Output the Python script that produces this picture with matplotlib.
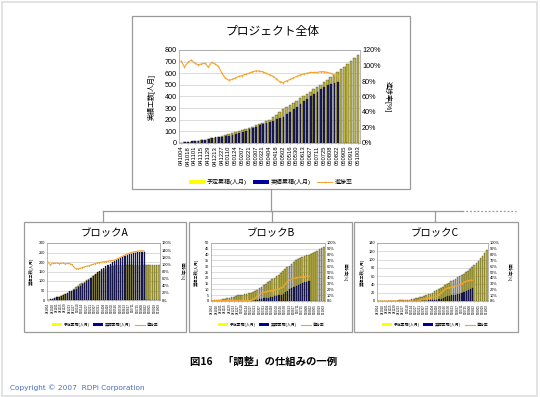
import matplotlib
matplotlib.use("Agg")
import matplotlib.pyplot as plt
from matplotlib.patches import Rectangle, Patch
from matplotlib.lines import Line2D

plt.rcParams['font.family'] = ['Liberation Sans', 'Noto Sans CJK JP', 'DejaVu Sans']

# ---------------- data ----------------
date_labels = ["041004", "041018", "041101", "041115", "041129", "041213", "041227",
               "050110", "050124", "050207", "050221", "050307", "050321", "050404",
               "050418", "050502", "050516", "050530", "050613", "050627", "050711",
               "050725", "050808", "050822", "050905", "050919", "051003"]

series_names = ["予定累積(人月)", "実績累積(人月)", "進捗率"]

total_planned = [3, 6, 9, 12, 15, 19, 24, 29, 35, 41, 47, 54, 61, 68, 76, 84, 92, 101, 110, 120,
                 130, 141, 152, 163, 175, 188, 201, 222, 245, 268, 290, 310, 328, 346, 364, 383,
                 402, 422, 442, 462, 482, 503, 524, 545, 566, 588, 610, 634, 658, 682, 706, 730, 755]
total_actual = [3, 6, 9, 13, 15, 19, 24, 30, 34, 43, 48, 53, 55, 57, 62, 69, 77, 87, 96, 107,
                117, 130, 141, 152, 161, 169, 177, 191, 203, 212, 226, 248, 269, 291, 313, 337,
                358, 380, 402, 420, 439, 463, 482, 496, 509, 517, 522]
total_rate = [1.06, 0.98, 1.04, 1.07, 1.03, 1.01, 1.02, 1.03, 0.98, 1.04, 1.02, 0.99, 0.90,
              0.84, 0.81, 0.82, 0.84, 0.86, 0.87, 0.89, 0.90, 0.92, 0.93, 0.93, 0.92, 0.90,
              0.88, 0.86, 0.83, 0.79, 0.78, 0.80, 0.82, 0.84, 0.86, 0.88, 0.89, 0.90, 0.91,
              0.91, 0.91, 0.92, 0.92, 0.91, 0.90, 0.88, 0.87]

a_planned = [2, 4, 7, 10, 14, 18, 22, 27, 32, 38, 44, 50, 58, 68, 76, 83, 90, 97, 104, 111,
             118, 125, 132, 139, 146, 152, 158, 164, 169, 174, 178, 181, 183, 185, 185, 185,
             185, 185, 185, 185, 185, 185, 185, 185, 185, 185, 185, 185, 185, 185, 185, 185, 185]
a_actual = [2, 4, 7, 10, 15, 18, 23, 28, 32, 39, 45, 50, 54, 60, 66, 74, 82, 90, 99, 107,
            116, 125, 135, 145, 153, 161, 169, 177, 184, 191, 198, 203, 209, 216, 222, 228,
            233, 239, 242, 246, 250, 252, 253, 255, 255, 255]
a_rate = [1.06, 0.98, 1.04, 1.03, 1.04, 1.02, 1.03, 1.04, 1.01, 1.03, 1.02, 1.00, 0.93, 0.88,
          0.87, 0.89, 0.91, 0.93, 0.95, 0.96, 0.98, 1.00, 1.02, 1.04, 1.05, 1.06, 1.07, 1.08,
          1.09, 1.10, 1.11, 1.12, 1.14, 1.17, 1.20, 1.23, 1.26, 1.29, 1.31, 1.33, 1.35, 1.36,
          1.37, 1.38, 1.38, 1.38]

b_planned = [0.3, 0.5, 0.7, 0.9, 1.2, 1.5, 1.9, 2.3, 2.8, 3.3, 3.8, 4.3, 4.8, 5.2, 5.6, 6.0,
             6.4, 6.8, 7.2, 7.6, 8.5, 9.5, 10.8, 12.2, 13.6, 15.0, 16.3, 17.6, 18.8, 20.0,
             21.3, 22.6, 24.0, 25.6, 27.3, 29.0, 30.6, 32.2, 33.7, 35.0, 36.0, 37.0, 37.8,
             38.6, 39.3, 40.0, 40.8, 41.6, 42.5, 43.4, 44.4, 45.4, 46.5]
b_actual = [0, 0, 0, 0, 0, 0, 0, 0, 0, 0, 0, 0, 0, 0, 0, 0, 0, 0, 0,
            0.2, 0.5, 1.0, 1.5, 2.0, 2.3, 2.6, 2.9, 3.2, 3.5, 3.9, 4.3, 4.8, 5.5, 6.3, 7.5,
            8.8, 10.0, 11.0, 12.0, 13.0, 14.0, 15.0, 15.8, 16.5, 16.8, 17.0]
b_rate = [0.01, 0.01, 0.01, 0.01, 0.01, 0.01, 0.01, 0.01, 0.01, 0.01, 0.01, 0.01, 0.01, 0.01,
          0.01, 0.01, 0.01, 0.01, 0.01,
          0.03, 0.05, 0.08, 0.11, 0.14, 0.15, 0.16, 0.17, 0.18, 0.18, 0.19, 0.20, 0.21, 0.23,
          0.25, 0.29, 0.33, 0.36, 0.38, 0.39, 0.40, 0.41, 0.41, 0.42, 0.42, 0.43, 0.43]

c_planned = [0.2, 0.3, 0.4, 0.5, 0.6, 0.7, 0.8, 0.9, 1.0, 1.1, 1.3, 1.5, 2.0, 2.5, 3.0, 3.6,
             4.3, 5.2, 6.2, 7.5, 9.0, 10.5, 12.2, 14.0, 16.0, 18.0, 20.5, 23.0, 26.0, 29.0,
             32.0, 35.0, 38.0, 41.0, 44.5, 48.0, 51.0, 54.0, 57.0, 60.0, 63.0, 66.0, 69.5,
             73.0, 77.0, 81.0, 86.0, 91.0, 97.0, 103.0, 109.0, 116.0, 123.0]
c_actual = [0, 0, 0, 0, 0, 0, 0, 0, 0, 0, 0, 0, 0, 0, 0, 0, 0, 0, 0, 0,
            0.3, 0.5, 0.8, 1.0, 1.3, 1.6, 2.0, 2.4, 3.0, 4.0, 5.5, 7.5, 9.5, 11.0, 12.5,
            13.5, 14.5, 15.5, 16.5, 18.0, 20.0, 22.0, 24.5, 27.0, 29.0, 30.5]
c_rate = [0.0, 0.0, 0.0, 0.0, 0.0, 0.0, 0.0, 0.0, 0.0, 0.0, 0.0, 0.0, 0.0, 0.0, 0.0, 0.0,
          0.0, 0.0, 0.0, 0.0,
          0.02, 0.03, 0.04, 0.04, 0.05, 0.06, 0.06, 0.07, 0.08, 0.11, 0.14, 0.17, 0.20, 0.22,
          0.23, 0.24, 0.25, 0.26, 0.27, 0.28, 0.30, 0.32, 0.34, 0.35, 0.36, 0.36]

# ---------------- styles ----------------
W, H = 540, 397
PLAN_C = '#bfb74a'
PLAN_EDGE = '#33331c'
ACT_C = '#1a1a55'
LINE_C = '#f2a531'
BOX_C = '#9a9a9a'


def fx(px):
    return px / W


def fy(py):
    return 1 - py / H


fig = plt.figure(figsize=(W / 100, H / 100), dpi=100)
fig.patch.set_facecolor('white')

# slide frame
fig.add_artist(Rectangle((fx(2), fy(396)), fx(535), 394 / H, transform=fig.transFigure,
                         fill=False, edgecolor='#dedede', lw=1.2))


def box(x0, y0, x1, y1):
    fig.add_artist(Rectangle((fx(x0), fy(y1)), fx(x1 - x0), (y1 - y0) / H,
                             transform=fig.transFigure, fill=False, edgecolor=BOX_C, lw=0.9))


box(132, 16, 410, 189)
box(24, 222, 186, 332)
box(189, 222, 352, 332)
box(354, 222, 518, 332)


def line(xs, ys, ls='-'):
    fig.add_artist(Line2D([fx(x) for x in xs], [fy(y) for y in ys], transform=fig.transFigure,
                          color=BOX_C, lw=0.9, linestyle=ls))


line([271, 271], [189, 211])
line([103, 462], [211, 211])
line([462, 516], [211, 211], ls=(0, (1.5, 1.5)))
line([103, 103], [211, 222])
line([272, 272], [211, 222])
line([435, 435], [211, 222])


def chart(rect_px, planned, actual, rate, ymax, ystep, rmax, rstep, title, title_xy,
          title_fs, tick_fs, xtick_fs, lab_fs, leg_fs, leg_xy, leg_marker, ylab_x, rlab_x):
    x0, y0, x1, y1 = rect_px
    ax = fig.add_axes([fx(x0), fy(y1), fx(x1 - x0), (y1 - y0) / H])
    n = len(planned)
    xs = list(range(n))
    ax.bar(xs, planned, width=0.78, color=PLAN_C, edgecolor=PLAN_EDGE, linewidth=0.25, zorder=2)
    xa = [i + 0.12 for i in range(len(actual))]
    ax.bar(xa, actual, width=0.55, color=ACT_C, edgecolor='#0a0a30', linewidth=0.2, zorder=3)
    ax.set_xlim(-0.6, n - 0.4)
    ax.set_ylim(0, ymax)
    ax.set_yticks([v for v in range(0, ymax + 1, ystep)])
    ax.yaxis.grid(True, color='#cfcfcf', lw=0.5, zorder=0)
    ax.set_axisbelow(True)
    ax.set_xticks(list(range(0, n, 2)))
    ax.set_xticklabels(date_labels, rotation=90, fontsize=xtick_fs)
    ax.tick_params(axis='y', labelsize=tick_fs, length=0, pad=1.5)
    ax.tick_params(axis='x', length=1, width=0.4, pad=1, color='#888888')
    for s in ax.spines.values():
        s.set_color('#9a9a9a')
        s.set_linewidth(0.5)
    ax2 = ax.twinx()
    ax2.plot(list(range(len(rate))), rate, color=LINE_C, lw=0.8, marker='o',
             markersize=leg_marker, markeredgewidth=0, zorder=5)
    ax2.set_ylim(0, rmax)
    rt = [k * rstep for k in range(int(round(rmax / rstep)) + 1)]
    ax2.set_yticks(rt)
    ax2.set_yticklabels([f"{round(v * 100)}%" for v in rt])
    ax2.tick_params(axis='y', labelsize=tick_fs, length=0, pad=1.5)
    for s in ax2.spines.values():
        s.set_visible(False)
    fig.text(fx(ylab_x), fy((y0 + y1) / 2), "実績工数[人月]", rotation=90, fontsize=lab_fs,
             ha='center', va='center')
    fig.text(fx(rlab_x), fy((y0 + y1) / 2), "進捗率[%]", rotation=270, fontsize=lab_fs,
             ha='center', va='center')
    fig.text(fx(title_xy[0]), fy(title_xy[1]), title, fontsize=title_fs, ha='center',
             va='center', family=['Noto Sans CJK JP', 'DejaVu Sans'])
    handles = [Patch(facecolor='#ffff00', edgecolor='none'),
               Patch(facecolor='#000099', edgecolor='none'),
               Line2D([], [], color=LINE_C, lw=0.8, marker='o', markersize=leg_marker,
                      markeredgewidth=0)]
    fig.legend(handles, series_names, loc='center', bbox_to_anchor=(fx(leg_xy[0]), fy(leg_xy[1])),
               bbox_transform=fig.transFigure, ncol=3, frameon=False, fontsize=leg_fs,
               handlelength=2.6, handleheight=0.6, columnspacing=1.0, handletextpad=0.4,
               borderpad=0)
    return ax


chart((179, 50, 360, 143), total_planned, total_actual, total_rate, 800, 100, 1.2, 0.2,
      "プロジェクト全体", (272, 31), 8.5, 5.2, 4.2, 5, 4.3, (271, 182), 1.2, 152, 388)
chart((47, 243, 160, 300), a_planned, a_actual, a_rate, 300, 50, 1.6, 0.2,
      "ブロックA", (105, 233), 7.5, 2.8, 2.2, 3.0, 2.8, (105, 325), 0.8, 31, 182)
chart((211, 243, 325, 301), b_planned, b_actual, b_rate, 50, 5, 1.0, 0.1,
      "ブロックB", (271, 233), 7.5, 2.8, 2.2, 3.0, 2.8, (271, 325), 0.8, 196, 345)
chart((377, 243, 488, 301), c_planned, c_actual, c_rate, 140, 20, 1.0, 0.1,
      "ブロックC", (435, 233), 7.5, 2.8, 2.2, 3.0, 2.8, (435, 325), 0.8, 362, 509)

fig.text(fx(264), fy(362), "図16　「調整」の仕組みの一例", fontsize=7.5, fontweight='bold',
         ha='center', va='center', family=['Noto Sans CJK JP', 'DejaVu Sans'])
fig.text(fx(10), fy(388), "Copyright © 2007  RDPi Corporation", fontsize=5.3,
         color='#4a6db8', ha='left', va='center', family=['DejaVu Sans'])

fig.savefig("out.png", dpi=100, facecolor='white')
